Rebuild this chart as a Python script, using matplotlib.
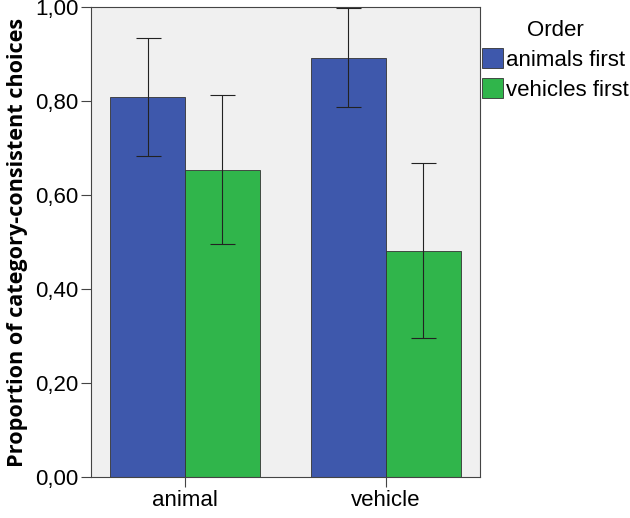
import matplotlib
matplotlib.use("Agg")
import matplotlib.pyplot as plt
import numpy as np

plt.rcParams["font.family"] = ["Liberation Sans", "DejaVu Sans"]

categories = ["animal", "vehicle"]
series = ["animals first", "vehicles first"]
means = {
    "animals first": [0.809, 0.891],
    "vehicles first": [0.653, 0.481],
}
lower = {
    "animals first": [0.683, 0.787],
    "vehicles first": [0.496, 0.296],
}
upper = {
    "animals first": [0.934, 0.998],
    "vehicles first": [0.813, 0.668],
}
colors = {"animals first": "#3E58AC", "vehicles first": "#30B54B"}
yticks = [0.0, 0.2, 0.4, 0.6, 0.8, 1.0]
ytick_labels = ["0,00", "0,20", "0,40", "0,60", "0,80", "1,00"]

fig = plt.figure(figsize=(6.3, 5.18), dpi=100)
ax = fig.add_axes([0.1444, 0.079, 0.6175, 0.9075])
ax.set_facecolor("#F0F0F0")

x = np.arange(len(categories))
w = 0.373
for i, s in enumerate(series):
    pos = x + (i - 0.5) * w
    m = np.array(means[s])
    err = [m - np.array(lower[s]), np.array(upper[s]) - m]
    ax.bar(pos, m, w, color=colors[s], edgecolor="#333333", linewidth=0.6,
           label=s, zorder=2)
    ax.errorbar(pos, m, yerr=err, fmt="none", ecolor="#222222",
                elinewidth=0.8, capsize=9, capthick=0.8, zorder=3)

ax.set_xlim(-0.468, 1.468)
ax.set_ylim(0, 1.0)
ax.set_xticks(x)
ax.set_xticklabels(categories, fontsize=16)
ax.set_yticks(yticks)
ax.set_yticklabels(ytick_labels, fontsize=16)
ax.tick_params(direction="out", length=7, width=0.8, color="#444444", pad=2)
for sp in ax.spines.values():
    sp.set_color("#444444")
    sp.set_linewidth(0.8)
ax.set_ylabel("Proportion of category-consistent choices", fontsize=15.6,
              fontweight="bold", family=["Open Sans", "DejaVu Sans"],
              labelpad=5)

leg = ax.legend(title="Order", loc="upper left", bbox_to_anchor=(1.0, 0.978),
                frameon=False, fontsize=16, title_fontsize=16,
                handlelength=0.95, handleheight=0.95, handletextpad=0.1,
                labelspacing=0.35, borderaxespad=0.0, borderpad=0.1)

fig.savefig("out.png", dpi=100)
